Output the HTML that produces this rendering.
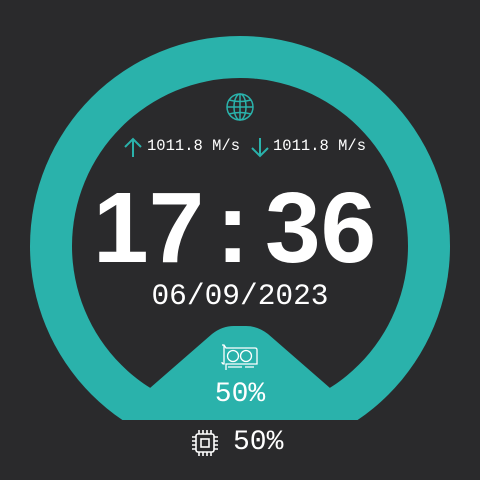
<!DOCTYPE html>
<html><head><meta charset="utf-8"><style>
html,body{margin:0;padding:0;background:#2a2a2c;}
#root{position:relative;width:480px;height:480px;overflow:hidden;background:#2a2a2c;font-family:"Liberation Mono",monospace;color:#fff;}
.t{position:absolute;white-space:nowrap;}
</style></head><body>
<div id="root">
<svg width="480" height="480" style="position:absolute;left:0;top:0">
  <defs><clipPath id="c"><rect x="0" y="0" width="480" height="420"/></clipPath></defs>
  <g clip-path="url(#c)">
    <circle cx="240" cy="246" r="210" fill="#2ab2ab"/>
    <circle cx="240" cy="246" r="168" fill="#2a2a2c"/>
    <path d="M150 388 L212 334 Q222 326 234 326 L246 326 Q258 326 268 334 L330 388 L330 420 L150 420 Z" fill="#2ab2ab"/>
  </g>
  <g fill="none" stroke="#2ab2ab" stroke-width="1.5">
    <circle cx="240" cy="107" r="13"/>
    <ellipse cx="240" cy="107" rx="6" ry="13"/>
    <line x1="227" y1="107" x2="253" y2="107"/>
    <line x1="240" y1="94" x2="240" y2="120"/>
    <path d="M229 100 Q240 103 251 100 M229 114 Q240 111 251 114"/>
  </g>
  <g stroke="#2ab2ab" stroke-width="2" fill="none">
    <path d="M133 157 L133 139 M125 147 L133 139 L141 147"/>
  </g>
  <g stroke="#2ab2ab" stroke-width="2" fill="none">
    <path d="M260 138 L260 156 M252 148 L260 156 L268 148"/>
  </g>
  <g stroke="#fff" stroke-width="1.3" fill="none">
    <path d="M222 345 L224 345 L226 348 L255 348 Q257 348 257 350 L257 364 L226 364 L226 370 M224 345 L224 364 Q222 364 222 362"/>
    <circle cx="233" cy="356" r="5.5"/><circle cx="246" cy="356" r="5.5"/>
    <path d="M228 367 L242 367 M245 367 L254 367"/>
  </g>
  <g stroke="#fff" stroke-width="1.6" fill="none">
    <rect x="196" y="434" width="18" height="18" rx="2"/>
    <rect x="201" y="439" width="8" height="8"/>
    <path d="M199 430v4M203 430v4M207 430v4M211 430v4M199 452v4M203 452v4M207 452v4M211 452v4M192 437h4M192 441h4M192 445h4M192 449h4M214 437h4M214 441h4M214 445h4M214 449h4"/>
  </g>
</svg>
<div class="t" style="left:147px;top:137px;font-size:15.5px;">1011.8 M/s</div>
<div class="t" style="left:273px;top:137px;font-size:15.5px;">1011.8 M/s</div>
<div class="t" style="left:93px;top:178px;font-family:'Liberation Sans',sans-serif;font-weight:bold;font-size:100px;line-height:100px;">17</div>
<div class="t" style="left:216px;top:178px;font-family:'Liberation Sans',sans-serif;font-weight:bold;font-size:100px;line-height:100px;">:</div>
<div class="t" style="left:265px;top:178px;font-family:'Liberation Sans',sans-serif;font-weight:bold;font-size:100px;line-height:100px;">36</div>
<div class="t" style="left:0;width:480px;text-align:center;top:280px;font-size:29.5px;line-height:32px;">06/09/2023</div>
<div class="t" style="left:0;width:480px;text-align:center;top:379px;font-size:28px;line-height:32px;">50%</div>
<div class="t" style="left:233px;top:427px;font-size:28px;line-height:32px;">50%</div>
</div>
</body></html>
